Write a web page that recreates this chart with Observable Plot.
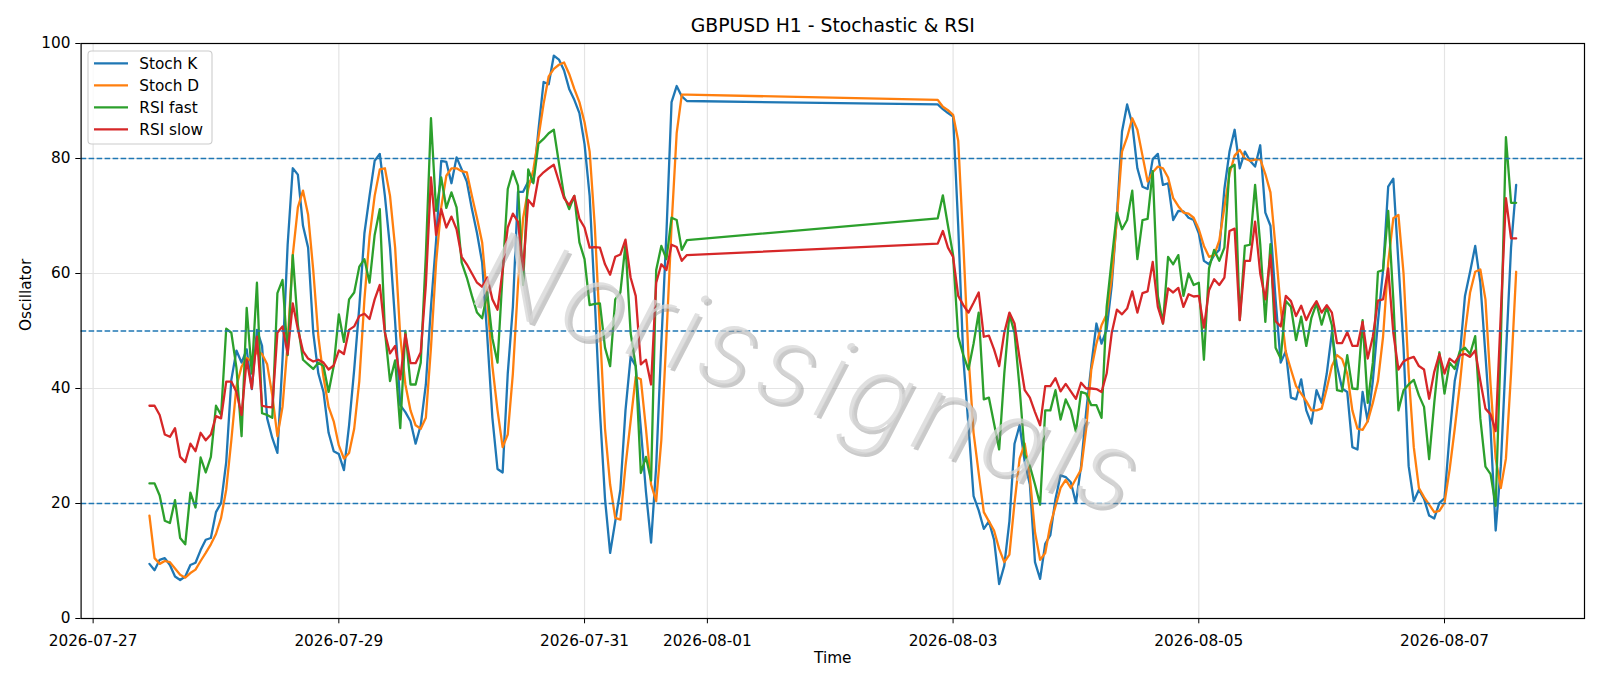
<!DOCTYPE html>
<html><head><meta charset="utf-8">
<script src="https://cdn.jsdelivr.net/npm/d3@7"></script>
<script src="https://cdn.jsdelivr.net/npm/@observablehq/plot@0.6"></script>
<style>
html,body{margin:0;padding:0;background:#fff;}
#chart{position:relative;width:1600px;height:686px;}
.wm text{letter-spacing:6px;}
</style></head><body><div id="chart"></div>
<script>
const title = "GBPUSD H1 - Stochastic & RSI";
const xLabel = "Time";
const yLabel = "Oscillator";
const watermark = "Norissignals";
const seriesNames = ["Stoch K", "Stoch D", "RSI fast", "RSI slow"];
const seriesColors = ["#1f77b4", "#ff7f0e", "#2ca02c", "#d62728"];
const sessionStarts = ["2026-07-27T11:00:00Z", "2026-08-02T21:00:00Z"];
const sessionBars = [106, 114];
const levels = [20, 50, 80];
const xTicks = ["2026-07-27", "2026-07-29", "2026-07-31", "2026-08-01", "2026-08-03", "2026-08-05", "2026-08-07"];
const yTicks = [0, 20, 40, 60, 80, 100];

const stochK = [
  9.5, 8.4, 10.2, 10.5, 9.3, 7.3, 6.7, 7.3, 9.3, 9.7, 11.9, 13.7, 14, 18.5, 20.1, 27.2, 41.5, 46.6, 44.5, 46.8, 39.9, 50.2, 47.4, 34.8, 31.4, 28.8, 45, 65, 78.3, 77.2, 68.3, 64.5, 49.7, 42.6, 39.4, 32.3,
  29.1, 28.6, 25.8, 33.6, 43.3, 54.2, 67, 73.5, 79.6, 80.8, 73.5, 64.5, 51.6, 37.1, 35.9, 34.3, 30.4, 33.6, 40.7, 54.2, 65.7, 79.6, 79.4, 75.7, 80.2, 78.1, 76, 71.2, 67, 61.9, 49, 34.9, 26, 25.4, 42.6, 54.2, 74.2, 74.2, 76,
  76, 85, 93.3, 92.9, 97.9, 97.2, 95.3, 92.1, 90.2, 87.9, 82.5, 73.5, 55.5, 36.2, 20.8, 11.4, 16.9, 22.4, 36.2, 45.5, 43.9, 33, 22, 13.2, 26.5, 47.8, 67, 89.8, 92.6, 90.8, 90,
  89.4, 88.6, 87.9, 87.3, 68.3, 45.2, 33.6, 21.3, 18.8, 15.6, 16.9, 13.7, 6, 9.2, 16.9, 30.4, 33.6, 27.2, 23.3, 9.8, 6.9, 13, 14.5, 20.8, 24.9, 24.6, 23.7, 20.1, 26.5,
  36, 44, 51.3, 47.8, 50.3, 58, 70, 84.7, 89.4, 86, 78.3, 75.1, 74.7, 79.9, 80.8, 75.4, 75.7, 69.3, 70.9, 70.8, 69.7, 69.3, 67, 62.2, 61.6, 63.2, 64.1, 74.7, 81.2, 85, 78.3, 81.2, 79.6, 78.6, 82.3, 70.6, 68.3, 55.5, 44.5,
  46.5, 38.4, 38.1, 41.6, 36.2, 33.9, 39.7, 37.5, 42.6, 49.7, 43.9, 40, 39.4, 29.8, 29.4, 39.4, 34.3, 41.3, 51.6, 60.6, 75.1, 76.5, 61.9, 47.1, 26.5, 20.4, 22.4, 20.8, 17.9, 17.4, 20.1, 20.9, 32, 41.3, 45.8, 56.1, 60.3, 64.8, 58.4, 45.8, 33, 15.3, 26.5, 45.8, 64.5, 75.4
];
const stochD = [
  17.9, 10.5, 9.5, 10, 9.8, 8.7, 7.6, 7.1, 7.9, 8.5, 10, 11.4, 12.9, 14.7, 17.5, 22.4, 31, 40.4, 43.8, 45.3, 44.7, 46.5, 46, 44.2, 38.8, 31.7, 36.8, 47.8, 63.2, 71.5, 74.4, 70.2, 60.6, 49, 42, 36.8,
  34.3, 30.1, 27.8, 28.8, 33, 41.3, 55.5, 66.4, 73.5, 78.1, 78.3, 73.5, 64.5, 49, 40.7, 36.2, 33.6, 33, 34.9, 47.1, 61.9, 71.5, 77, 78.3, 78.3, 77.8, 77.6, 73.5, 69.6, 65.4, 55.5, 43.9, 36.2, 29.8, 32, 42.6, 58, 69.6, 74.7,
  78, 83.7, 89.5, 94.3, 95.6, 96.3, 96.7, 94.7, 92.1, 89.8, 86.3, 81.2, 68.3, 50.3, 33, 23.3, 17.5, 17.2, 26.5, 34.3, 42, 41.6, 33, 23.3, 20.4, 31, 49, 68.3, 84.4, 91.1, 91.1,
  90.2, 89, 88.4, 87.6, 83.1, 65.1, 45.8, 32.3, 25.3, 18.5, 16.9, 15.3, 12.1, 9.8, 11.1, 20.1, 27.8, 30.4, 24.6, 15, 10.2, 11.4, 16.3, 19.5, 22.7, 24.1, 22.7, 24.3, 25.9,
  33, 43.3, 47.8, 51, 52.9, 59.3, 69.6, 81.2, 83.7, 87, 85, 80.5, 76, 77.6, 78.6, 78.3, 76.7, 73.1, 71.7, 70.6, 70.4, 69.7, 67.7, 64.8, 62.9, 63.2, 65.7, 71.5, 77.3, 80.5, 81.5, 80, 79.6, 79.8, 79.9, 77.3, 74.1, 64.5, 54,
  46.3, 43.3, 40.4, 39.1, 37.8, 36.2, 36.2, 36.5, 40, 43.9, 45.8, 45.1, 42.6, 36.2, 33, 32.8, 34.3, 37.5, 41.3, 49, 61.9, 69.6, 70.2, 60, 42.6, 29.8, 22.7, 21.1, 19.8, 18.5, 18.7, 20.1, 25.9, 33, 40.7, 49.7, 56.7, 60.3, 60.7, 55.5, 40.7, 27.8, 22.7, 27.8, 42.6, 60.3
];
const rsiFast = [
  23.5, 23.5, 21.4, 17, 16.6, 20.6, 14, 12.9, 21.9, 19.3, 28, 25.4, 28.1, 37, 35.4, 50.4, 49.7, 43.6, 31.7, 54, 42.6, 58.4, 35.7, 35.4, 34.9, 56.6, 58.9, 45.8, 63.2, 51, 45, 44.2, 43.4, 44.5, 43.9, 39.4,
  43.9, 52.9, 48.1, 55.5, 56.7, 61.2, 62.5, 58.4, 66.7, 71.2, 50, 41.3, 44.9, 33.1, 50, 40.7, 40.7, 44.5, 63.2, 87, 70.9, 76.7, 71.4, 74.1, 71.5, 61.9, 59.3, 56.1, 53.2, 52.2, 56.7, 48.7, 44.5, 60, 74.7, 77.8, 75.3, 58, 78.1,
  75.7, 82.6, 83.4, 84.4, 85, 79.2, 73.5, 71.2, 73.5, 65.4, 62.5, 54.5, 54.7, 54.8, 47.1, 43.9, 55.5, 56.7, 65.1, 49.7, 43.9, 25.3, 28.1, 24, 60.6, 64.8, 62.5, 69.7, 69.3, 64.1, 65.8,
  69.6, 73.6, 68.3, 63.2, 49, 45.8, 43.3, 47.8, 53.2, 38.1, 38.4, 33.9, 29.4, 42.6, 52.9, 49.7, 40, 28.5, 26.5, 23.3, 19.8, 36.2, 36.2, 39.7, 34.6, 38.1, 36.2, 32.5, 39.4,
  39.1, 37.1, 37.1, 34.9, 54.2, 62.5, 70.6, 67.7, 69.3, 74.4, 62.5, 69.3, 69.5, 77.8, 56.1, 51.3, 62.9, 61.6, 63.2, 56.1, 60, 58, 58.4, 45, 60.9, 64.1, 62.2, 64.5, 78.3, 78.9, 51.9, 64.8, 65, 75.4, 65.1, 51.6, 65.1, 47.1, 45.2,
  55.2, 54.2, 48.4, 52.5, 47.4, 52.3, 54.8, 51.1, 54.2, 51, 39.7, 39.5, 45.8, 40, 39.9, 51.9, 37.5, 44.5, 60.3, 60.6, 70.9, 55.5, 36.2, 39.7, 40.7, 41.5, 38.8, 36.8, 27.7, 37.5, 46.3, 39.1, 44.5, 43.4, 46.5, 47.1, 46, 49.1, 34.8, 26.4, 25.1, 19.6, 48, 83.7, 72.3, 72.3
];
const rsiSlow = [
  37, 37, 35.4, 32, 31.6, 33.1, 28.1, 27.2, 30.4, 29.1, 32.3, 31, 32, 35.2, 34.8, 41.2, 41.2, 39.4, 35.4, 45, 40, 49, 37, 36.8, 36.7, 49.7, 50.8, 46, 54.8, 50.3, 46.5, 45.2, 44.7, 45, 44.5, 43.3,
  44, 46.6, 46, 50.2, 50.8, 52.6, 53, 52.1, 55.5, 58, 49.7, 46.1, 47.4, 41.6, 49.4, 44.4, 44.4, 46.3, 58, 76.7, 66.7, 71.2, 68, 69.9, 67.7, 62.9, 61.6, 60, 58.4, 57.7, 59.3, 55.5, 53.7, 60.6, 68, 70.4, 69, 60.6, 72.8,
  71.7, 76.7, 77.6, 78.3, 78.9, 76, 73.1, 71.9, 73.5, 69.5, 68, 64.5, 64.6, 64.5, 61.6, 59.8, 62.9, 63.3, 65.9, 59.3, 56.1, 44.2, 45, 40.7, 58.4, 61.6, 60.6, 65, 64.6, 62.2, 63.2,
  65.2, 67.4, 64.5, 62.9, 56.1, 54.5, 53.2, 54.9, 56.7, 49, 49.2, 46.8, 43.9, 49.7, 53.2, 51.3, 45.2, 39.7, 38.4, 35.9, 33.6, 40.4, 40.4, 41.8, 39.5, 40.8, 39.5, 38.2, 41,
  40, 40, 39.9, 39.4, 42.6, 49.7, 53.7, 52.9, 53.9, 56.9, 53.2, 56.6, 56.9, 62, 54.2, 51.3, 57.4, 56.7, 57.5, 54.2, 56.4, 56, 56.1, 50.6, 57.1, 59, 58, 59.3, 67.4, 67.8, 51.9, 62.2, 62.2, 69, 60, 55.5, 63.2, 51.7, 50.8,
  56.1, 55.2, 52.6, 54.4, 51.9, 53.8, 55.2, 53.2, 54.5, 53.2, 47.9, 47.9, 49.8, 47.4, 47.4, 51.6, 45.2, 49, 55.3, 55.5, 60.9, 49.7, 43.3, 44.7, 45.2, 45.5, 43.9, 43.3, 38.2, 42.9, 46, 42.6, 45.2, 44.5, 45.8, 46, 45.5, 46.6, 41.3, 36.5, 35.5, 32.6, 53, 73.1, 66.1, 66.1
];

// hourly bar times of the two trading sessions
const times = sessionStarts.flatMap((s, i) =>
  d3.range(sessionBars[i]).map(k => d3.utcHour.offset(new Date(s), k)));

const seriesValues = [stochK, stochD, rsiFast, rsiSlow];
const seriesData = seriesValues.map(vals => times.map((t, i) => ({t, v: vals[i]})));

const [tMin, tMax] = d3.extent(times);
const pad = (tMax - tMin) * 0.05;
const xDomain = [new Date(+tMin - pad), new Date(+tMax + pad)];
const xTickDates = xTicks.map(s => new Date(s + "T00:00:00Z"));

const FONT = "DejaVu Sans, Verdana, sans-serif";
const WM_FONT = "Inter, 'DejaVu Sans', sans-serif";
const fs = 15.3;

const wm = {text: d => d, frameAnchor: "middle", rotate: 18, fontSize: 110, fontStyle: "italic", fontWeight: 200, fontFamily: WM_FONT, className: "wm"};

const marks = [
  Plot.gridX(xTickDates, {stroke: "#e4e4e4", strokeOpacity: 1, strokeWidth: 1.2}),
  Plot.gridY(yTicks, {stroke: "#e4e4e4", strokeOpacity: 1, strokeWidth: 1.2}),
  ...seriesData.map((d, i) => Plot.line(d, {x: "t", y: "v", stroke: seriesColors[i], strokeWidth: 2.3, strokeLinejoin: "round"})),
  Plot.ruleY(levels, {stroke: "#1f77b4", strokeWidth: 1.5, strokeDasharray: "5.6,2.4"}),
  // watermark with a soft shadow
  Plot.text([watermark], {...wm, dx: -21, dy: 48, fill: "#8a8a8a", fillOpacity: 0.45}),
  Plot.text([watermark], {...wm, dx: -24, dy: 45, fill: "#d6d6d6", fillOpacity: 0.75}),
  Plot.frame({stroke: "black", strokeWidth: 1.2}),
  Plot.axisX({ticks: xTickDates, tickFormat: d3.utcFormat("%Y-%m-%d"), tickSize: 5.3, tickPadding: 11, fontSize: fs, label: null}),
  Plot.axisY({ticks: yTicks, tickSize: 5.3, tickPadding: 5.3, fontSize: fs, label: null}),
  Plot.text([title], {text: d => d, frameAnchor: "top", dy: -25, fontSize: 18.8, fontFamily: FONT, fill: "black"}),
  Plot.text([yLabel], {text: d => d, frameAnchor: "left", dx: -55, rotate: -90, fontSize: fs, fontFamily: FONT, fill: "black"}),
  Plot.text([xLabel], {text: d => d, frameAnchor: "bottom", dy: 44, fontSize: fs, fontFamily: FONT, fill: "black"})
];

const plot = Plot.plot({
  width: 1600,
  height: 686,
  marginTop: 43,
  marginRight: 16,
  marginBottom: 68,
  marginLeft: 80.6,
  style: {fontFamily: FONT, fontSize: fs + "px", background: "white", color: "black", overflow: "visible"},
  x: {type: "utc", domain: xDomain},
  y: {domain: [0, 100]},
  marks
});

// legend (upper-left box, like matplotlib)
const svg = d3.select(plot);
const lg = svg.append("g").attr("font-family", FONT).attr("font-size", fs).attr("text-anchor", "start");
lg.append("rect").attr("x", 88).attr("y", 51).attr("width", 124).attr("height", 93)
  .attr("rx", 3.5).attr("fill", "white").attr("fill-opacity", 0.8).attr("stroke", "#cccccc").attr("stroke-width", 1.1);
seriesNames.forEach((name, i) => {
  const cy = 63.3 + i * 22;
  lg.append("line").attr("x1", 94).attr("x2", 128).attr("y1", cy).attr("y2", cy)
    .attr("stroke", seriesColors[i]).attr("stroke-width", 2.3);
  lg.append("text").attr("x", 139.3).attr("y", cy).attr("dy", "0.35em").attr("text-anchor", "start").attr("fill", "black").text(name);
});

document.getElementById("chart").appendChild(plot);
</script></body></html>
